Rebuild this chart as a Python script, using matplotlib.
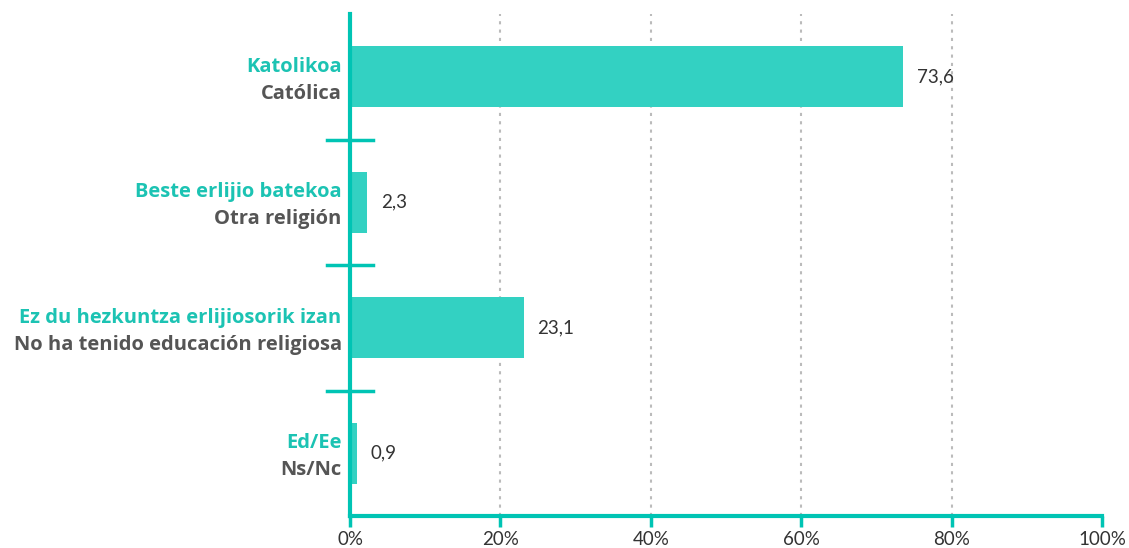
import matplotlib
matplotlib.use('Agg')
import matplotlib.pyplot as plt

# Data
labels_eu = ['Katolikoa', 'Beste erlijio batekoa', 'Ez du hezkuntza erlijiosorik izan', 'Ed/Ee']
labels_es = ['Católica', 'Otra religión', 'No ha tenido educación religiosa', 'Ns/Nc']
values = [73.6, 2.3, 23.1, 0.9]
xticks = [0, 20, 40, 60, 80, 100]

bar_color = '#33d1c2'
axis_color = '#00c4b4'
teal_text = '#1cc3b3'
grey_text = '#555555'

plt.rcParams['font.family'] = ['Lato', 'DejaVu Sans']

fig = plt.figure(figsize=(11.29, 5.48), dpi=100)
ax = fig.add_axes([350 / 1129, 32 / 548, 752 / 1129, 502 / 548])

ypos = list(range(len(values)))
ax.barh(ypos, values, height=0.49, color=bar_color, zorder=3)

ax.set_xlim(0, 100)
ax.set_ylim(len(values) - 0.5, -0.5)

# dotted vertical grid
for x in xticks[1:-1]:
    ax.axvline(x, color='#bbbbbb', linestyle=(0, (1.5, 2.5)), linewidth=1.5, zorder=1)

# spines
for s in ['top', 'right']:
    ax.spines[s].set_visible(False)
ax.spines['left'].set_color(axis_color)
ax.spines['left'].set_linewidth(3)
ax.spines['bottom'].set_color(axis_color)
ax.spines['bottom'].set_linewidth(3)
ax.spines['left'].set_zorder(4)

ax.set_xticks(xticks)
ax.set_xticklabels([f'{x}%' for x in xticks])
ax.tick_params(axis='x', colors=axis_color, length=8, width=2.5, labelsize=13.5,
               labelcolor='#333333', pad=3)
ax.set_yticks([])

# category separators crossing the y axis
for b in [0.5, 1.5, 2.5]:
    ax.plot([-3, 3], [b, b], color=axis_color, linewidth=2.5, clip_on=False, zorder=5)

# category labels
for y, eu, es in zip(ypos, labels_eu, labels_es):
    ax.text(-1.1, y - 0.08, eu, ha='right', va='center', fontsize=14.5, fontweight='bold',
            color=teal_text, family=['Open Sans', 'DejaVu Sans'])
    ax.text(-1.1, y + 0.135, es, ha='right', va='center', fontsize=14.5, fontweight='bold',
            color=grey_text, family=['Open Sans', 'DejaVu Sans'])

# value labels
for y, v in zip(ypos, values):
    ax.text(v + 1.8, y, f'{v:.1f}'.replace('.', ','), ha='left', va='center',
            fontsize=13.5, color='#333333')

fig.savefig('out.png', dpi=100)
